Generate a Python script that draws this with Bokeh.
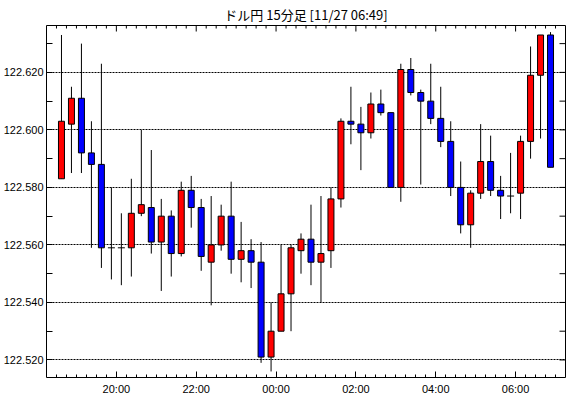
import math
from bokeh.plotting import figure
from bokeh.models import FixedTicker, Range1d, ColumnDataSource
from bokeh.embed import file_html
from bokeh.resources import INLINE

# 15-minute candles (start times), JST
times = ["18:30", "18:45", "19:00", "19:15", "19:30", "19:45", "20:00", "20:15", "20:30", "20:45",
         "21:00", "21:15", "21:30", "21:45", "22:00", "22:15", "22:30", "22:45", "23:00", "23:15",
         "23:30", "23:45", "00:00", "00:15", "00:30", "00:45", "01:00", "01:15", "01:30", "01:45",
         "02:00", "02:15", "02:30", "02:45", "03:00", "03:15", "03:30", "03:45", "04:00", "04:15",
         "04:30", "04:45", "05:00", "05:15", "05:30", "05:45", "06:00", "06:15", "06:30", "06:45"]
opens = [122.583, 122.602, 122.611, 122.592, 122.588, 122.559, 122.559, 122.559, 122.571, 122.573,
         122.561, 122.570, 122.557, 122.579, 122.573, 122.554, 122.560, 122.570, 122.555, 122.558,
         122.554, 122.521, 122.530, 122.543, 122.558, 122.562, 122.554, 122.558, 122.576, 122.603,
         122.602, 122.599, 122.609, 122.606, 122.580, 122.621, 122.613, 122.610, 122.604, 122.596,
         122.580, 122.567, 122.578, 122.589, 122.579, 122.577, 122.578, 122.596, 122.619, 122.633]
highs = [122.633, 122.615, 122.630, 122.603, 122.623, 122.580, 122.571, 122.583, 122.600, 122.593,
         122.576, 122.572, 122.582, 122.584, 122.576, 122.577, 122.574, 122.582, 122.568, 122.562,
         122.561, 122.540, 122.560, 122.560, 122.564, 122.574, 122.577, 122.580, 122.604, 122.615,
         122.608, 122.613, 122.614, 122.606, 122.623, 122.625, 122.614, 122.623, 122.615, 122.603,
         122.589, 122.579, 122.602, 122.598, 122.584, 122.592, 122.598, 122.629, 122.633, 122.634]
lows = [122.583, 122.585, 122.585, 122.559, 122.552, 122.548, 122.546, 122.549, 122.570, 122.557,
        122.544, 122.549, 122.556, 122.566, 122.551, 122.539, 122.558, 122.550, 122.547, 122.545,
        122.519, 122.516, 122.530, 122.530, 122.550, 122.546, 122.540, 122.552, 122.573, 122.595,
        122.586, 122.597, 122.605, 122.580, 122.575, 122.612, 122.581, 122.602, 122.594, 122.577,
        122.564, 122.559, 122.576, 122.577, 122.569, 122.571, 122.569, 122.590, 122.597, 122.587]
closes = [122.603, 122.611, 122.592, 122.588, 122.559, 122.559, 122.559, 122.571, 122.574, 122.561,
          122.570, 122.557, 122.579, 122.573, 122.556, 122.560, 122.570, 122.555, 122.558, 122.554,
          122.521, 122.530, 122.543, 122.559, 122.562, 122.554, 122.557, 122.576, 122.603, 122.602,
          122.599, 122.609, 122.606, 122.580, 122.621, 122.613, 122.610, 122.604, 122.596, 122.580,
          122.567, 122.578, 122.589, 122.579, 122.577, 122.577, 122.596, 122.619, 122.633, 122.587]

y_ticks = [122.52, 122.54, 122.56, 122.58, 122.60, 122.62]
y_labels = ["122.520", "122.540", "122.560", "122.580", "122.600", "122.620"]
y_minor = [122.53, 122.55, 122.57, 122.59, 122.61, 122.63]
x_tick_times = ["20:00", "22:00", "00:00", "02:00", "04:00", "06:00"]
x_tick_labels = ["20:00", "22:00", "00:00", "02:00", "04:00", "06:00"]
title_text = "ドル円 15分足 [11/27 06:49]"

X_START, X_END = 15, 795
Y_LOW, Y_HIGH = 122.5139, 122.6363


def to_min(t):
    h, m = map(int, t.split(":"))
    if h < 18:
        h += 24
    return (h - 18) * 60 + m


xs = [to_min(t) + 7.5 for t in times]
x_major = [to_min(t) for t in x_tick_times]
x_minor = [m for m in range(X_START + 15, X_END, 15) if m not in x_major]

up = dict(x=[], top=[], bottom=[])
down = dict(x=[], top=[], bottom=[])
doji = dict(x=[], y=[])
for x, o, c in zip(xs, opens, closes):
    if abs(c - o) < 1e-9:
        doji["x"].append(x); doji["y"].append(c)
    elif c > o:
        up["x"].append(x); up["top"].append(c); up["bottom"].append(o)
    else:
        down["x"].append(x); down["top"].append(o); down["bottom"].append(c)

p = figure(width=570, height=398, output_backend="svg", toolbar_location=None,
           x_range=Range1d(X_START, X_END), y_range=Range1d(Y_LOW, Y_HIGH),
           min_border_left=45, min_border_right=5, min_border_top=22, min_border_bottom=21)
p.background_fill_color = "white"
p.border_fill_color = "white"
p.outline_line_color = "black"
p.outline_line_width = 1
p.outline_line_alpha = 1

p.title.text = title_text
p.title.text_font = "Noto Sans CJK JP"
p.title.text_font_size = "13px"
p.title.text_font_style = "normal"
p.title.align = "center"
p.title.text_color = "black"
p.title.standoff = 4

label_font = "Liberation Sans"

ya = p.yaxis[0]
ya.ticker = FixedTicker(ticks=y_ticks, minor_ticks=y_minor)
ya.major_label_overrides = dict(zip(y_ticks, y_labels))
xa = p.xaxis[0]
xa.ticker = FixedTicker(ticks=x_major, minor_ticks=x_minor)
xa.major_label_overrides = dict(zip(x_major, x_tick_labels))

ya.major_tick_in = 6
ya.minor_tick_in = 6
xa.major_tick_in = 6
xa.minor_tick_in = 3
for ax in (ya, xa):
    ax.major_tick_out = 0
    ax.minor_tick_out = 0
    ax.axis_line_color = None
    ax.major_tick_line_color = "black"
    ax.minor_tick_line_color = "black"
    ax.major_label_text_font = label_font
    ax.major_label_text_color = "black"
    ax.major_label_text_font_size = "11px"
ya.major_label_standoff = 3
xa.major_label_standoff = 5

p.xgrid.visible = False
p.ygrid.ticker = FixedTicker(ticks=y_ticks)
p.ygrid.grid_line_color = "black"
p.ygrid.grid_line_dash = "2 1"
p.ygrid.grid_line_width = 1

# inward ticks on the right and top edges of the frame
y_all = sorted(y_ticks + y_minor)
p.ray(x=[X_END] * len(y_all), y=y_all, length=6, length_units="screen",
      angle=math.pi, line_color="black", line_width=1)
p.ray(x=x_major, y=[Y_HIGH] * len(x_major), length=6, length_units="screen",
      angle=-math.pi / 2, line_color="black", line_width=1)
p.ray(x=x_minor, y=[Y_HIGH] * len(x_minor), length=3, length_units="screen",
      angle=-math.pi / 2, line_color="black", line_width=1)

p.segment(x0=xs, y0=lows, x1=xs, y1=highs, line_color="black", line_width=1)
p.vbar(x="x", top="top", bottom="bottom", width=9, source=ColumnDataSource(up),
       fill_color="#ff0000", line_color="black", line_width=1)
p.vbar(x="x", top="top", bottom="bottom", width=9, source=ColumnDataSource(down),
       fill_color="#0000ff", line_color="black", line_width=1)
p.dash(x="x", y="y", size=7, source=ColumnDataSource(doji), line_color="black", line_width=1)

open("out.html", "w").write(file_html(p, INLINE))
